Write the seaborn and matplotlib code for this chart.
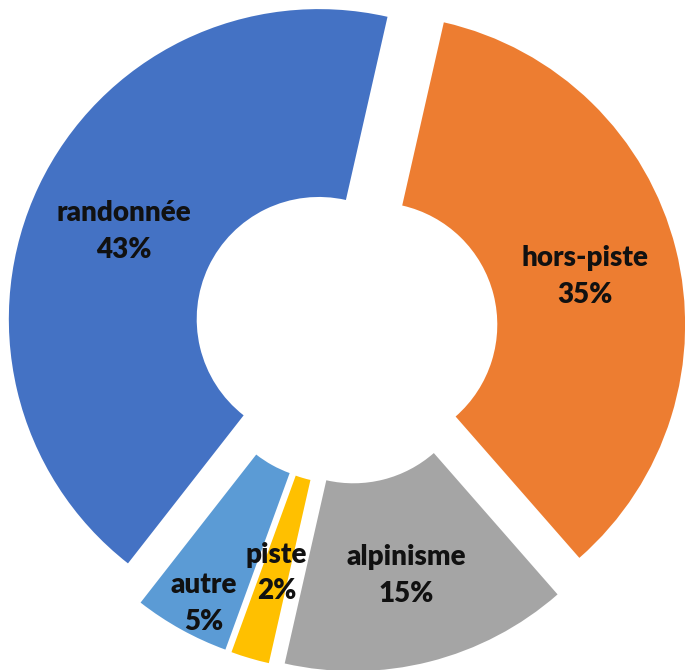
import numpy as np
import matplotlib
matplotlib.use('Agg')
import matplotlib.pyplot as plt
import seaborn as sns

# Data (order as in the source spreadsheet)
categories = ['randonnée', 'hors-piste', 'alpinisme', 'piste', 'autre']
shares = [43, 35, 15, 2, 5]
colours = ['#4472C4', '#ED7D31', '#A5A5A5', '#FFC000', '#5B9BD5']

sns.set_theme(style = 'white')
plt.rcParams['font.family'] = ['Lato', 'DejaVu Sans']

W, H = 685, 670
R_PX = 310                      # outer radius in pixels
CX, CY = 346, 670 - 332         # donut centre in pixels

fig = plt.figure(figsize = (W / 100, H / 100), dpi = 100)
ax = fig.add_axes([0, 0, 1, 1])

FIRST_ANGLE = 218               # first slice angle, clockwise from 12 o'clock
HOLE = 0.394                    # inner radius / outer radius

wedges, texts, autotexts = ax.pie(shares,
                                  colors = colours,
                                  startangle = 90 - FIRST_ANGLE,
                                  counterclock = False,
                                  explode = [0.097] * len(shares),
                                  radius = 1,
                                  wedgeprops = dict(width = 1 - HOLE, linewidth = 0),
                                  autopct = '%1.0f%%',
                                  pctdistance = (1 + HOLE) / 2)

for cat, t in zip(categories, autotexts):
    t.set_text(cat + '\n' + t.get_text())
    t.set_fontsize(20)
    t.set_fontweight('heavy')
    t.set_color('#111111')
    t.set_linespacing(1.5)
    t.set_ha('center')
    t.set_va('center')
    # nudge labels slightly down, as in the original
    x, y = t.get_position()
    t.set_position((x, y - 5 / R_PX))

# 'autre' label was dragged lower in the original
x, y = autotexts[4].get_position()
autotexts[4].set_position((x - 0.074, y - 0.165))

ax.set_xlim(-CX / R_PX, (W - CX) / R_PX)
ax.set_ylim(-CY / R_PX, (H - CY) / R_PX)
ax.set_aspect('equal')
ax.axis('off')

fig.savefig('out.png', dpi = 100, facecolor = 'white')
plt.close()
